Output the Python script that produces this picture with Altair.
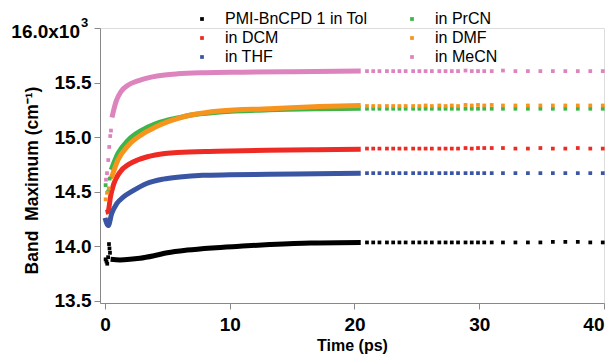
import altair as alt
import pandas as pd

# legend order (filled column by column, 2 columns)
series = ["PMI-BnCPD 1 in Tol", "in DCM", "in THF", "in PrCN", "in DMF", "in MeCN"]
colors = ["#000000", "#EE2A24", "#3A55A4", "#3DB54A", "#F7941D", "#DD84BE"]

# dense part (drawn as a continuous band)
tol_t = [0.45, 1.2, 2.0, 2.8, 4.0, 5.0, 6.6, 8.6, 10.8, 13.2, 16.5, 20.5]
tol_v = [13.88, 13.875, 13.88, 13.89, 13.915, 13.94, 13.965, 13.985, 14.00, 14.015, 14.03, 14.035]
dcm_t = [0.05, 0.25, 0.45, 0.7, 1.2, 1.9, 2.6, 3.4, 4.8, 5.8, 9.0, 13.0, 17.0, 20.5]
dcm_v = [14.31, 14.32, 14.46, 14.57, 14.68, 14.75, 14.79, 14.82, 14.85, 14.86, 14.87, 14.88, 14.885, 14.89]
thf_t = [0.0, 0.26, 0.54, 0.94, 1.46, 2.26, 3.34, 4.66, 6.0, 7.84, 10.0, 13.2, 17.0, 20.5]
thf_v = [14.26, 14.19, 14.30, 14.39, 14.45, 14.51, 14.575, 14.615, 14.635, 14.65, 14.655, 14.66, 14.665, 14.67]
prcn_t = [0.5, 1.04, 1.84, 2.9, 4.0, 5.0, 5.8, 6.8, 9.2, 13.2, 17.2, 20.5]
prcn_v = [14.70, 14.85, 14.97, 15.06, 15.12, 15.155, 15.175, 15.20, 15.23, 15.25, 15.26, 15.265]
dmf_t = [0.5, 1.04, 1.84, 2.9, 4.0, 5.0, 5.8, 6.8, 9.2, 13.2, 17.2, 20.5]
dmf_v = [14.62, 14.79, 14.92, 15.02, 15.09, 15.14, 15.17, 15.20, 15.24, 15.26, 15.28, 15.29]
mecn_t = [0.56, 0.64, 0.9, 1.3, 1.84, 2.64, 3.7, 4.8, 5.8, 8.0, 11.0, 15.0, 20.5]
mecn_v = [15.18, 15.22, 15.33, 15.42, 15.475, 15.515, 15.55, 15.57, 15.58, 15.59, 15.595, 15.60, 15.605]

# scattered early points
tol_et = [0.05, 0.12, 0.18, 0.25, 0.32, 0.36, 0.40]
tol_ev = [13.88, 13.86, 13.84, 13.90, 14.02, 13.98, 13.94]
prcn_et = [0.05, 0.25, 0.38]
prcn_ev = [14.56, 14.50, 14.62]
dmf_et = [0.05, 0.16, 0.3]
dmf_ev = [14.43, 14.49, 14.53]
mecn_et = [0.08, 0.16, 0.26, 0.34, 0.42, 0.48]
mecn_ev = [14.61, 14.67, 14.79, 14.91, 15.01, 15.06]

# sparse tail (20-40 ps)
tail_t = [21.0, 21.5, 22.0, 22.6, 23.1, 23.6, 24.1, 24.7, 25.2, 25.7, 26.2, 26.8, 27.3, 27.8, 28.3,
          28.9, 29.4, 29.9, 30.4, 31.0, 31.9, 32.9, 33.9, 34.9, 35.9, 36.9, 37.9, 38.9, 39.9]
tol_tail = [14.035, 14.035, 14.035, 14.035, 14.035, 14.035, 14.035, 14.035, 14.035, 14.035,
            14.035, 14.035, 14.035, 14.035, 14.035, 14.035, 14.035, 14.035, 14.035, 14.035,
            14.035, 14.035, 14.035, 14.035, 14.04, 14.04, 14.04, 14.035, 14.035]
dcm_tail = [14.895, 14.895, 14.895, 14.895, 14.895, 14.895, 14.895, 14.895, 14.895, 14.895,
            14.895, 14.895, 14.895, 14.895, 14.895, 14.9, 14.895, 14.9, 14.9, 14.9,
            14.9, 14.895, 14.895, 14.9, 14.895, 14.895, 14.9, 14.895, 14.895]
thf_tail = [14.67, 14.67, 14.67, 14.67, 14.67, 14.67, 14.67, 14.67, 14.67, 14.67,
            14.67, 14.67, 14.67, 14.67, 14.67, 14.67, 14.67, 14.67, 14.67, 14.67,
            14.67, 14.67, 14.67, 14.67, 14.67, 14.67, 14.67, 14.67, 14.67]
prcn_tail = [15.26, 15.26, 15.26, 15.26, 15.26, 15.26, 15.26, 15.26, 15.26, 15.26,
             15.26, 15.26, 15.26, 15.26, 15.26, 15.26, 15.26, 15.26, 15.26, 15.26,
             15.26, 15.26, 15.26, 15.26, 15.26, 15.26, 15.26, 15.26, 15.26]
dmf_tail = [15.285, 15.285, 15.285, 15.285, 15.285, 15.285, 15.285, 15.285, 15.285, 15.29,
            15.285, 15.29, 15.285, 15.29, 15.285, 15.295, 15.29, 15.295, 15.29, 15.295,
            15.29, 15.29, 15.29, 15.29, 15.29, 15.29, 15.29, 15.29, 15.29]
mecn_tail = [15.605, 15.605, 15.605, 15.605, 15.605, 15.605, 15.605, 15.605, 15.605, 15.605,
             15.605, 15.605, 15.605, 15.605, 15.605, 15.61, 15.605, 15.605, 15.605, 15.605,
             15.61, 15.605, 15.605, 15.605, 15.605, 15.605, 15.605, 15.605, 15.605]

dense = {"PMI-BnCPD 1 in Tol": (tol_t, tol_v), "in DCM": (dcm_t, dcm_v), "in THF": (thf_t, thf_v),
         "in PrCN": (prcn_t, prcn_v), "in DMF": (dmf_t, dmf_v), "in MeCN": (mecn_t, mecn_v)}
early = {"PMI-BnCPD 1 in Tol": (tol_et, tol_ev), "in PrCN": (prcn_et, prcn_ev),
         "in DMF": (dmf_et, dmf_ev), "in MeCN": (mecn_et, mecn_ev)}
tails = {"PMI-BnCPD 1 in Tol": tol_tail, "in DCM": dcm_tail, "in THF": thf_tail,
         "in PrCN": prcn_tail, "in DMF": dmf_tail, "in MeCN": mecn_tail}
draw_rank = {s: i for i, s in enumerate(series)}

line_rows, pt_rows = [], []
for s, (ts, vs) in dense.items():
    for t, v in zip(ts, vs):
        line_rows.append({"series": s, "t": t, "v": v, "rank": draw_rank[s]})
for s, (ts, vs) in early.items():
    for t, v in zip(ts, vs):
        pt_rows.append({"series": s, "t": t, "v": v, "rank": draw_rank[s]})
for s, vs in tails.items():
    for t, v in zip(tail_t, vs):
        pt_rows.append({"series": s, "t": t, "v": v, "rank": draw_rank[s]})
line_df = pd.DataFrame(line_rows).sort_values(["rank", "t"])
pt_df = pd.DataFrame(pt_rows).sort_values(["rank", "t"])

FONT = "Liberation Sans"
xscale = alt.Scale(domain=[-0.4, 40], nice=False, zero=False)
yscale = alt.Scale(domain=[13.48, 16.0], nice=False, zero=False)
cscale = alt.Scale(domain=series, range=colors)

xaxis = alt.Axis(values=[0, 10, 20, 30, 40], title="Time (ps)", grid=False, tickSize=6,
                 labelFontSize=19, labelFontWeight="bold", labelPadding=6,
                 titleFontSize=16, titleFontWeight="bold", titleY=47, titleBaseline="alphabetic")
yaxis = alt.Axis(values=[13.5, 14.0, 14.5, 15.0, 15.5, 16.0], grid=False, tickSize=6,
                 labelExpr="datum.value == 16 ? '' : format(datum.value, '.1f')",
                 labelFontSize=19, labelFontWeight="bold", labelPadding=3,
                 title="Band\u00a0 Maximum (cm\u207b\u00b9)", titleFontSize=17.5, titleFontWeight="bold",
                 titleX=-63, titleY=152, titleBaseline="alphabetic", titleAngle=270)

lines = alt.Chart(line_df).mark_line(strokeWidth=5, strokeCap="butt", strokeJoin="round",
                                     interpolate="monotone").encode(
    x=alt.X("t:Q", scale=xscale, axis=xaxis),
    y=alt.Y("v:Q", scale=yscale, axis=yaxis),
    color=alt.Color("series:N", scale=cscale, legend=None),
    detail="series:N",
    order="t:Q",
)

pts = alt.Chart(pt_df).mark_square(size=14, opacity=1).encode(
    x=alt.X("t:Q", scale=xscale),
    y=alt.Y("v:Q", scale=yscale),
    color=alt.Color("series:N", scale=cscale, sort=series,
                    legend=alt.Legend(title=None, orient="none", legendX=94, legendY=-17,
                                      columns=2, symbolType="square", symbolSize=14,
                                      symbolStrokeWidth=0, labelFontSize=16, labelFont=FONT,
                                      labelColor="black", labelOffset=15, rowPadding=3,
                                      columnPadding=36, padding=0)),
)

# top tick label "16.0x10" with superscript "3"
top_label = pd.DataFrame({"v": [16.0], "base": ["16.0x10"], "exp": ["3"]})
base_txt = alt.Chart(top_label).mark_text(
    font=FONT, fontSize=19, fontWeight="bold", align="right", baseline="alphabetic",
    color="black", dy=10).encode(x=alt.value(-20), y=alt.Y("v:Q", scale=yscale), text="base:N")
sup_txt = alt.Chart(top_label).mark_text(
    font=FONT, fontSize=13, fontWeight="bold", align="left", baseline="alphabetic",
    color="black", dy=-1).encode(x=alt.value(-19), y=alt.Y("v:Q", scale=yscale), text="exp:N")

chart = alt.layer(lines, pts, base_txt, sup_txt).resolve_legend(color="independent").properties(
    width=504, height=275,
    autosize=alt.AutoSizeParams(type="none"),
    padding={"left": 92, "top": 20, "right": 3, "bottom": 51},
).configure_view(stroke=None).configure_axis(
    labelFont=FONT, titleFont=FONT, labelColor="black", titleColor="black",
    domainColor="#333333", tickColor="#333333", domainWidth=1.5, tickWidth=1.5,
).configure(background="white")

chart.save("out.html", embed_options={"renderer": "svg", "actions": False})
